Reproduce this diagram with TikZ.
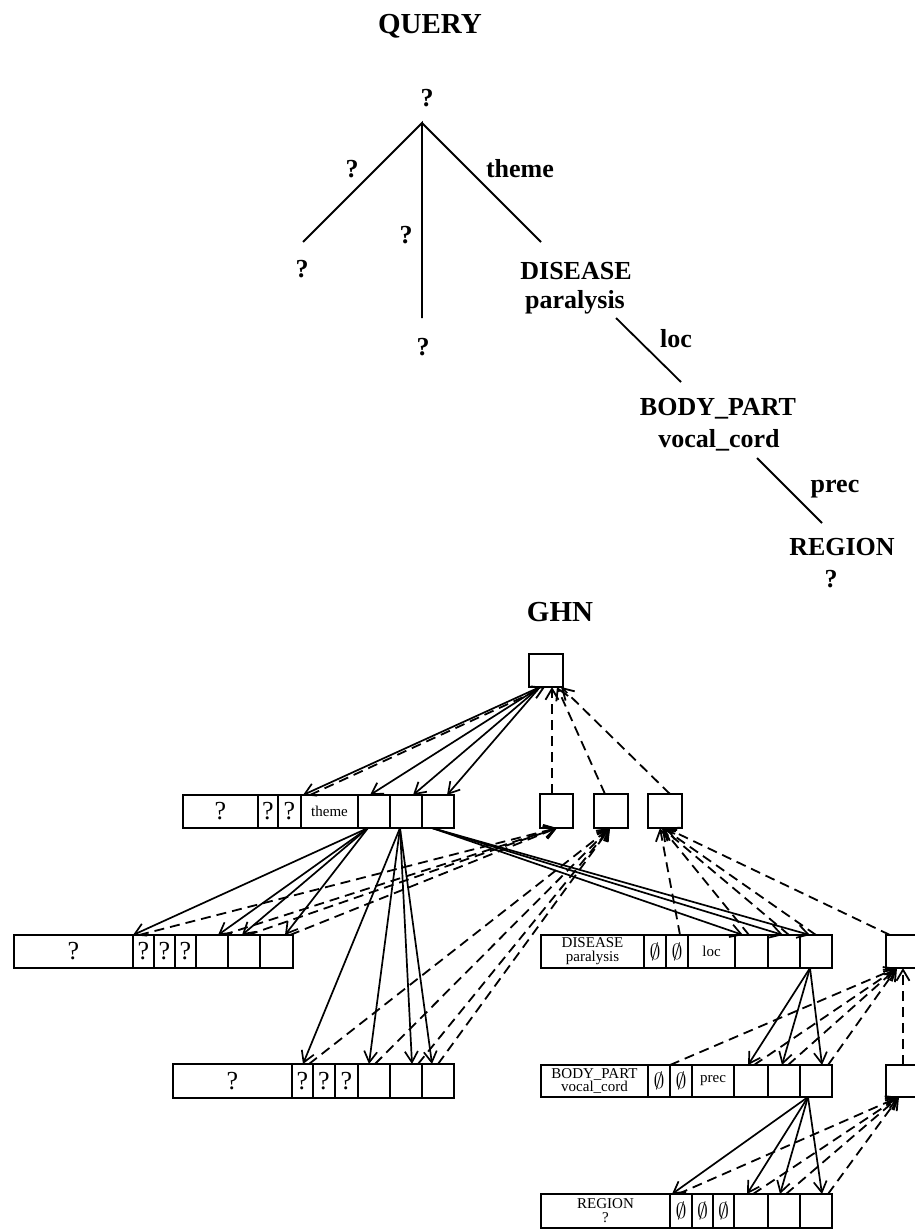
\documentclass[tikz,border=0pt]{standalone}
\usepackage{fontspec}
\setmainfont{Liberation Serif}
\usetikzlibrary{arrows.meta}
\newcommand\cellbox[6]{\node[cellst, minimum width={(#3-#2)*0.5pt}, minimum height={(#5-#4)*0.5pt}] (#1) at ({(#2+#3)/2},{(#4+#5)/2}) {#6};}
\newcommand\es{{\fontsize{11}{11}\selectfont$\emptyset$}}
\newcommand\bq{{\fontsize{13}{15}\selectfont ?}}
\begin{document}
\begin{tikzpicture}[x=0.5pt,y=-0.5pt,
  px/.style={xshift=#1*0.5pt},
  cellst/.style={draw, line width=0.9pt, inner sep=0pt, outer sep=0pt},
  tl/.style={font=\fontsize{13}{15}\selectfont\bfseries, inner sep=0pt, anchor=base},
  ttl/.style={font=\fontsize{14.5}{17}\selectfont\bfseries, inner sep=0pt, anchor=base},
  sm/.style={font=\fontsize{7.5}{6.9}\selectfont, align=center, inner sep=0pt},
  tree/.style={line width=0.9pt},
  sol/.style={line width=0.85pt, -{Straight Barb[length=5.5pt,width=6.5pt]}},
  dsh/.style={line width=0.9pt, dash pattern=on 5pt off 3pt, -{Straight Barb[length=5.5pt,width=6.5pt]}},
]
\useasboundingbox (0,0) rectangle (915,1231);

% ---------------- QUERY tree ----------------
\node[ttl] (qtitle) at (430,33) {QUERY};
\node[tl] (qroot) at (427,106) {?};
\node[tl] (lq1) at (352,177) {?};
\node[tl] (lq2) at (406,243) {?};
\node[tl] (ltheme) at (520,177) {theme};
\node[tl] (leaf1) at (302,277) {?};
\node[tl] (leaf2) at (423,355) {?};
\node[tl] (dis1) at (576,279) {DISEASE};
\node[tl] (dis2) at (575,308) {paralysis};
\node[tl] (lloc) at (676,347) {loc};
\node[tl] (bp1) at (718,415) {BODY\_PART};
\node[tl] (bp2) at (719,447) {vocal\_cord};
\node[tl] (lprec) at (835,492) {prec};
\node[tl] (reg1) at (842,555) {REGION};
\node[tl] (reg2) at (831,587) {?};

\coordinate (tv) at (422,123);
\coordinate (tl1) at (303,242);
\coordinate (tm1) at (422,318);
\coordinate (tr1) at (541,242);
\coordinate (lc0) at (616,318);
\coordinate (lc1) at (681,382);
\coordinate (pc0) at (757,458);
\coordinate (pc1) at (822,523);
\draw[tree] (tl1) -- (tv) -- (tm1);
\draw[tree] (tv) -- (tr1);
\draw[tree] (lc0) -- (lc1);
\draw[tree] (pc0) -- (pc1);

% ---------------- GHN ----------------
\node[ttl] (gtitle) at (560,621) {GHN};

\cellbox{top}{529}{563}{654}{687}{}

\cellbox{r2a}{183}{258}{795}{828}{\bq}
\cellbox{r2b}{258}{278}{795}{828}{\bq}
\cellbox{r2c}{278}{301}{795}{828}{\bq}
\cellbox{r2d}{301}{358}{795}{828}{}
\node[sm] at (r2d) {theme};
\cellbox{r2e}{358}{390}{795}{828}{}
\cellbox{r2f}{390}{422}{795}{828}{}
\cellbox{r2g}{422}{454}{795}{828}{}

\cellbox{S1}{540}{573}{794}{828}{}
\cellbox{S2}{594}{628}{794}{828}{}
\cellbox{S3}{648}{682}{794}{828}{}

\cellbox{la}{14}{133}{935}{968}{\bq}
\cellbox{lb}{133}{154}{935}{968}{\bq}
\cellbox{lc}{154}{175}{935}{968}{\bq}
\cellbox{ld}{175}{196}{935}{968}{\bq}
\cellbox{le}{196}{228}{935}{968}{}
\cellbox{lf}{228}{260}{935}{968}{}
\cellbox{lg}{260}{293}{935}{968}{}

\cellbox{da}{541}{644}{935}{968}{}
\node[sm] at (da) {DISEASE\\paralysis};
\cellbox{db}{644}{666}{935}{968}{\es}
\cellbox{dc}{666}{688}{935}{968}{\es}
\cellbox{dd}{688}{735}{935}{968}{}
\node[sm] at (dd) {loc};
\cellbox{de}{735}{768}{935}{968}{}
\cellbox{df}{768}{800}{935}{968}{}
\cellbox{dg}{800}{832}{935}{968}{}
\cellbox{R3}{886}{919}{935}{968}{}

\cellbox{ba}{173}{292}{1064}{1098}{\bq}
\cellbox{bb}{292}{313}{1064}{1098}{\bq}
\cellbox{bc}{313}{335}{1064}{1098}{\bq}
\cellbox{bd}{335}{358}{1064}{1098}{\bq}
\cellbox{be}{358}{390}{1064}{1098}{}
\cellbox{bf}{390}{422}{1064}{1098}{}
\cellbox{bg}{422}{454}{1064}{1098}{}

\cellbox{pa}{541}{648}{1065}{1097}{}
\node[sm] at (pa) {BODY\_PART\\vocal\_cord};
\cellbox{pb}{648}{670}{1065}{1097}{\es}
\cellbox{pc}{670}{692}{1065}{1097}{\es}
\cellbox{pd}{692}{734}{1065}{1097}{}
\node[sm] at (pd) {prec};
\cellbox{pe}{734}{768}{1065}{1097}{}
\cellbox{pf}{768}{800}{1065}{1097}{}
\cellbox{pg}{800}{832}{1065}{1097}{}
\cellbox{R4}{886}{919}{1065}{1097}{}

\cellbox{ga}{541}{670}{1194}{1228}{}
\node[sm] at (ga) {REGION\\?};
\cellbox{gb}{670}{692}{1194}{1228}{\es}
\cellbox{gc}{692}{713}{1194}{1228}{\es}
\cellbox{gd}{713}{734}{1194}{1228}{\es}
\cellbox{ge}{734}{768}{1194}{1228}{}
\cellbox{gf}{768}{800}{1194}{1228}{}
\cellbox{gg}{800}{832}{1194}{1228}{}

% solid pointers
\draw[sol] ([px=11]top.south west) -- ([px=2]r2d.north west);
\draw[sol] ([px=11]top.south west) -- ([px=12]r2e.north west);
\draw[sol] ([px=11]top.south west) -- ([px=23]r2f.north west);
\draw[sol] ([px=11]top.south west) -- ([px=25]r2g.north west);

\draw[sol] ([px=10]r2e.south west) -- (lb.north west);
\draw[sol] ([px=10]r2e.south west) -- ([px=22]le.north west);
\draw[sol] ([px=10]r2e.south west) -- ([px=14]lf.north west);
\draw[sol] ([px=10]r2e.south west) -- ([px=25]lg.north west);

\draw[sol] ([px=10]r2f.south west) -- ([px=11]bb.north west);
\draw[sol] ([px=10]r2f.south west) -- ([px=11]be.north west);
\draw[sol] ([px=10]r2f.south west) -- ([px=22]bf.north west);
\draw[sol] ([px=10]r2f.south west) -- ([px=10]bg.north west);

\draw[sol] ([px=10]r2g.south west) -- ([px=8]de.north west);
\draw[sol] ([px=10]r2g.south west) -- ([px=15]df.north west);
\draw[sol] ([px=10]r2g.south west) -- ([px=10]dg.north west);

\draw[sol] ([px=10]dg.south west) -- ([px=14]pe.north west);
\draw[sol] ([px=10]dg.south west) -- ([px=14]pf.north west);
\draw[sol] ([px=10]dg.south west) -- ([px=22]pg.north west);

\draw[sol] ([px=8]pg.south west) -- ([px=2]gb.north west);
\draw[sol] ([px=8]pg.south west) -- ([px=13]ge.north west);
\draw[sol] ([px=8]pg.south west) -- ([px=12]gf.north west);
\draw[sol] ([px=8]pg.south west) -- ([px=22]gg.north west);

% dashed back links
\draw[dsh] ([px=9]r2d.north west) -- ([px=16]top.south west);
\draw[dsh] ([px=12]S1.north west) -- ([px=23]top.south west);
\draw[dsh] ([px=11]S2.north west) -- ([px=28]top.south west);
\draw[dsh] ([px=22]S3.north west) -- ([px=32]top.south west);

\draw[dsh] ([px=6]lb.north west) -- ([px=17]S1.south west);
\draw[dsh] ([px=27]le.north west) -- ([px=17]S1.south west);
\draw[dsh] ([px=20]lf.north west) -- ([px=17]S1.south west);
\draw[dsh] ([px=30]lg.north west) -- ([px=17]S1.south west);

\draw[dsh] ([px=17]bb.north west) -- ([px=16]S2.south west);
\draw[dsh] ([px=17]be.north west) -- ([px=16]S2.south west);
\draw[dsh] ([px=28]bf.north west) -- ([px=16]S2.south west);
\draw[dsh] ([px=16]bg.north west) -- ([px=16]S2.south west);

\draw[dsh] ([px=14]dc.north west) -- ([px=12]S3.south west);
\draw[dsh] ([px=14]de.north west) -- ([px=14]S3.south west);
\draw[dsh] ([px=21]df.north west) -- ([px=14]S3.south west);
\draw[dsh] ([px=16]dg.north west) -- ([px=15]S3.south west);
\draw[dsh] ([px=4]R3.north west) -- ([px=18]S3.south west);

\draw[dsh] (pb.north east) -- ([px=11]R3.south west);
\draw[dsh] ([px=20]pe.north west) -- ([px=11]R3.south west);
\draw[dsh] ([px=20]pf.north west) -- ([px=11]R3.south west);
\draw[dsh] ([px=28]pg.north west) -- ([px=11]R3.south west);
\draw[dsh] ([px=17]R4.north west) -- ([px=17]R3.south west);

\draw[dsh] ([px=8]gb.north west) -- ([px=13]R4.south west);
\draw[dsh] ([px=19]ge.north west) -- ([px=13]R4.south west);
\draw[dsh] ([px=18]gf.north west) -- ([px=13]R4.south west);
\draw[dsh] ([px=28]gg.north west) -- ([px=13]R4.south west);
\end{tikzpicture}
\end{document}
